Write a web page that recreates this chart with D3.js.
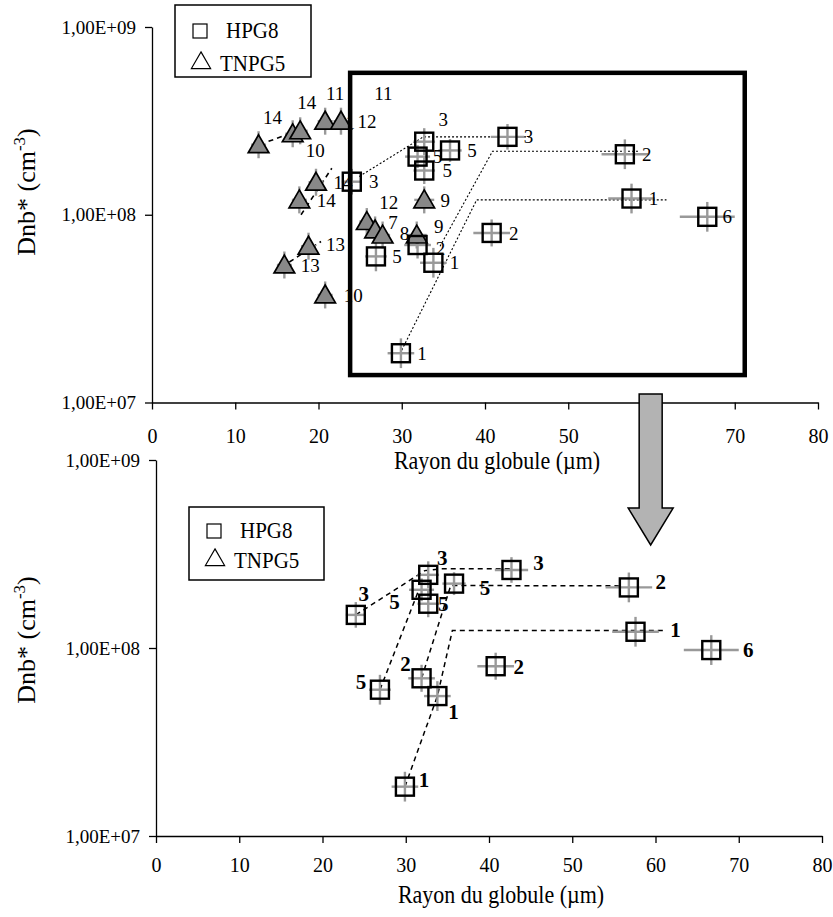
<!DOCTYPE html>
<html><head><meta charset="utf-8">
<script src="https://cdn.jsdelivr.net/npm/d3@7"></script>
<style>
body{margin:0;background:#fff}
svg text{font-family:"Liberation Serif","Times New Roman",serif;fill:#000}
</style>
</head><body>
<svg id="c" width="833" height="917"></svg>
<script>
// ---------------- DATA ----------------
// HPG8 (squares) – sample number, globule radius (µm), Dnb* (cm-3)
const hpgLabels = ["3","3","3","5","5","5","2","1","6","2","2","1","5","1"];
const hpgX      = [24, 32.7, 42.7, 35.8, 31.9, 32.7, 56.8, 57.6, 66.7, 40.8, 31.9, 33.8, 26.9, 29.9];
const hpgY      = [1.5e8, 2.45e8, 2.6e8, 2.2e8, 2.04e8, 1.72e8, 2.1e8, 1.22e8, 9.75e7, 8.0e7, 6.9e7, 5.55e7, 6.0e7, 1.83e7];
const hpgXErr   = [1.2, 1.3, 2.0, 1.4, 1.5, 1.3, 2.8, 2.8, 3.3, 2.2, 1.6, 1.6, 1.3, 1.6];
const hpgYErr   = [1.17, 1.18, 1.17, 1.15, 1.15, 1.18, 1.2, 1.2, 1.2, 1.18, 1.18, 1.2, 1.2, 1.2];

// TNPG5 (triangles)
const tnpLabels = ["14","14","10","11","12","14","14","9","12","7","8","9","13","13","10"];
const tnpX      = [12.8, 16.9, 17.8, 20.8, 22.7, 19.7, 17.7, 32.7, 25.8, 26.8, 27.7, 31.8, 18.8, 15.9, 20.8];
const tnpY      = [2.36e8, 2.7e8, 2.8e8, 3.15e8, 3.15e8, 1.49e8, 1.2e8, 1.2e8, 9.2e7, 8.3e7, 7.8e7, 7.8e7, 6.8e7, 5.4e7, 3.74e7];
const tnpXErr   = [0.9, 0.9, 0.9, 0.9, 0.9, 0.9, 0.9, 1.2, 0.9, 0.9, 0.9, 1.2, 0.9, 0.9, 0.9];
const tnpYErr   = [1.18, 1.18, 1.18, 1.18, 1.18, 1.18, 1.18, 1.18, 1.18, 1.18, 1.18, 1.18, 1.18, 1.18, 1.18];

// extra labels in the upper chart with no visible marker
const floatLabels = ["11", "11"];
const floatX      = [27.8, 23.3];
const floatY      = [4.45e8, 3.1e8];

// trend lines (upper chart, dotted)
const topCurve1 = [[30, 1.9e7], [39, 1.2e8], [61.8, 1.2e8]];
const topCurve2 = [[34.6, 6.8e7], [40.9, 2.18e8], [58.6, 2.18e8]];
const topCurve3 = [[24.9, 1.6e8], [32.6, 2.6e8], [45.4, 2.6e8]];
// TNPG5 dashed connectors
const triLine1 = [[14.0, 2.46e8], [16.2, 2.67e8]];
const triLine2 = [[17.9, 1.0e8], [21.6, 1.77e8]];
const triLine3 = [[16.5, 5.6e7], [20.3, 7.2e7]];
// trend lines (lower chart, dashed)
const botCurve1 = [[29.9, 1.83e7], [33.8, 5.55e7], [35.6, 1.24e8], [60.9, 1.24e8]];
const botCurve2 = [[31.9, 6.9e7], [35.4, 2.15e8], [55.6, 2.14e8]];
const botCurve3 = [[24, 1.5e8], [32.3, 2.58e8], [34.3, 2.64e8], [42.7, 2.64e8]];
const botCurve5 = [[26.9, 6.0e7], [31.5, 2.0e8]];

// zoom frame in the upper chart (data units)
const frameX = [23.8, 71.2];
const frameY = [1.4e7, 5.7e8];
const arrowXVal = 59.9;

const xTicks = [0, 10, 20, 30, 40, 50, 60, 70, 80];
const yTicks = [1e7, 1e8, 1e9];
const yTickLabels = ["1,00E+07", "1,00E+08", "1,00E+09"];
const xTitle = "Rayon du globule (µm)";
const legendNames = ["HPG8", "TNPG5"];

// ---------------- LAYOUT (label offsets, px) ----------------
const topHpgOff = [[22,0],[19,-22],[21,0],[22,0],[20,0],[23,0],[22,0],[22,0],[20,0],[22,0],[23,3],[21,0],[21,0],[21,0]];
const botHpgOff = [[8,-21],[14,-17],[27,-7],[31,4],[-27,12],[15,0],[32,-6],[40,-2],[37,0],[23,0],[-16,-15],[16,16],[-19,-8],[19,-7]];
const tnpOff    = [[14,-27],[14,-31],[15,20],[10,-28],[26,0],[27,0],[27,0],[21,0],[22,-19],[18,-8],[22,-2],[22,-9],[27,-2],[26,0],[28,0]];

const svg = d3.select("#c");

function drawPanel(cfg) {
  const xs = d3.scaleLinear().domain([0, 80]).range([cfg.x0, cfg.x1]);
  const ys = d3.scaleLog().domain([1e7, 1e9]).range([cfg.yb, cfg.yt]);
  const g = svg.append("g");

  // axes
  const xa = g.append("g").attr("transform", `translate(0,${cfg.yb})`)
    .call(d3.axisBottom(xs).tickValues(xTicks).tickSize(7).tickSizeOuter(0).tickFormat(d3.format("d")));
  xa.select(".domain").attr("stroke", "#000").attr("stroke-width", 1.3);
  xa.selectAll(".tick line").attr("stroke", "#000").attr("stroke-width", 1.3);
  xa.selectAll(".tick text").attr("font-size", 20).attr("dy", null).attr("y", cfg.xLabDy)
    .style("font-family", '"Liberation Serif",serif');
  const ya = g.append("g").attr("transform", `translate(${cfg.x0},0)`)
    .call(d3.axisLeft(ys).tickValues(yTicks).tickSize(7).tickSizeOuter(0).tickFormat((d, i) => yTickLabels[i]));
  ya.select(".domain").attr("stroke", "#000").attr("stroke-width", 1.3);
  ya.selectAll(".tick line").attr("stroke", "#000").attr("stroke-width", 1.3);
  ya.selectAll(".tick text").attr("font-size", 19).attr("x", -16)
    .style("font-family", '"Liberation Serif",serif');

  g.append("text").attr("transform", `translate(${cfg.xTitleX},${cfg.xTitleY}) scale(1,1.12)`)
    .attr("text-anchor", "middle").attr("font-size", 22).text(xTitle);
  const yt = g.append("text").attr("transform", `translate(${cfg.yTitleX},${cfg.yTitleY}) rotate(-90)`)
    .attr("text-anchor", "middle").attr("font-size", 26);
  yt.append("tspan").text("Dnb* (cm");
  yt.append("tspan").attr("dy", -10).attr("font-size", 17).text("-3");
  yt.append("tspan").attr("dy", 10).text(")");

  const line = d3.line().x(d => xs(d[0])).y(d => ys(d[1]));
  cfg.curves.forEach(c => g.append("path").attr("d", line(c)).attr("fill", "none")
    .attr("stroke", "#000").attr("stroke-width", cfg.curveW).attr("stroke-dasharray", cfg.curveDash));
  (cfg.triCurves || []).forEach(c => g.append("path").attr("d", line(c)).attr("fill", "none")
    .attr("stroke", "#000").attr("stroke-width", 1.6).attr("stroke-dasharray", "5,4"));

  // labels without marker (drawn under the markers)
  if (cfg.showTri) {
    floatX.forEach((x, i) => {
      g.append("text").attr("x", xs(x)).attr("y", ys(floatY[i])).attr("dy", "0.35em")
        .attr("text-anchor", "middle").attr("font-size", 19).text(floatLabels[i]);
    });
  }

  // error bars
  function errBars(X, Y, XE, YE) {
    X.forEach((x, i) => {
      g.append("line").attr("x1", xs(x - XE[i])).attr("x2", xs(x + XE[i]))
        .attr("y1", ys(Y[i])).attr("y2", ys(Y[i])).attr("stroke", "#999").attr("stroke-width", 2.4);
      g.append("line").attr("x1", xs(x)).attr("x2", xs(x))
        .attr("y1", ys(Y[i] / YE[i])).attr("y2", ys(Y[i] * YE[i])).attr("stroke", "#999").attr("stroke-width", 2.4);
    });
  }
  errBars(hpgX, hpgY, hpgXErr, hpgYErr);
  if (cfg.showTri) errBars(tnpX, tnpY, tnpXErr, tnpYErr);

  // triangles
  if (cfg.showTri) {
    const tri = d3.symbol().type(d3.symbolTriangle).size(185);
    tnpX.forEach((x, i) => {
      g.append("path").attr("d", tri()).attr("transform", `translate(${xs(x)},${ys(tnpY[i]) + 2})`)
        .attr("fill", "#888").attr("stroke", "#000").attr("stroke-width", 1.7);
    });
  }
  // squares
  hpgX.forEach((x, i) => {
    g.append("rect").attr("x", xs(x) - 9).attr("y", ys(hpgY[i]) - 9).attr("width", 18).attr("height", 18)
      .attr("fill", "none").attr("stroke", "#000").attr("stroke-width", 2.4);
  });

  // labels
  hpgX.forEach((x, i) => {
    const o = cfg.hpgOff[i];
    g.append("text").attr("x", xs(x) + o[0]).attr("y", ys(hpgY[i]) + o[1]).attr("dy", "0.35em")
      .attr("text-anchor", "middle").attr("font-size", cfg.labSize).attr("font-weight", cfg.labWeight)
      .text(hpgLabels[i]);
  });
  if (cfg.showTri) {
    tnpX.forEach((x, i) => {
      const o = tnpOff[i];
      g.append("text").attr("x", xs(x) + o[0]).attr("y", ys(tnpY[i]) + o[1]).attr("dy", "0.35em")
        .attr("text-anchor", "middle").attr("font-size", 19).text(tnpLabels[i]);
    });
  }

  // legend
  const L = cfg.legend;
  g.append("rect").attr("x", L.x).attr("y", L.y).attr("width", L.w).attr("height", L.h)
    .attr("fill", "#fff").attr("stroke", "#000").attr("stroke-width", 1.5);
  g.append("rect").attr("x", L.x + 18).attr("y", L.y + L.r1 - 14).attr("width", 14).attr("height", 14)
    .attr("fill", "none").attr("stroke", "#000").attr("stroke-width", 1.2);
  g.append("path").attr("d", d3.symbol().type(d3.symbolTriangle).size(160)())
    .attr("transform", `translate(${L.x + 26},${L.y + L.r2 - 8})`)
    .attr("fill", "none").attr("stroke", "#000").attr("stroke-width", 1.2);
  g.append("text").attr("transform", `translate(${L.x + 51},${L.y + L.r1}) scale(1,1.12)`)
    .attr("font-size", 21).text(legendNames[0]);
  g.append("text").attr("transform", `translate(${L.x + 45},${L.y + L.r2}) scale(1,1.12)`)
    .attr("font-size", 21).text(legendNames[1]);

  return { xs, ys, g };
}

const topP = drawPanel({
  x0: 152, x1: 818, yt: 27, yb: 402.5, xLabDy: 40,
  xTitleX: 497, xTitleY: 469, yTitleX: 35, yTitleY: 192,
  curves: [topCurve1, topCurve2, topCurve3], curveW: 1.1, curveDash: "2,2",
  triCurves: [triLine1, triLine2, triLine3], showTri: true,
  hpgOff: topHpgOff, labSize: 19, labWeight: "normal",
  legend: { x: 175, y: 5, w: 136, h: 72, r1: 33, r2: 66 }
});
// zoom frame
topP.g.append("rect").attr("x", topP.xs(frameX[0])).attr("y", topP.ys(frameY[1]))
  .attr("width", topP.xs(frameX[1]) - topP.xs(frameX[0])).attr("height", topP.ys(frameY[0]) - topP.ys(frameY[1]))
  .attr("fill", "none").attr("stroke", "#000").attr("stroke-width", 4.5);

const botP = drawPanel({
  x0: 156, x1: 822, yt: 460, yb: 836, xLabDy: 36,
  xTitleX: 501, xTitleY: 903, yTitleX: 35, yTitleY: 640,
  curves: [botCurve1, botCurve2, botCurve3, botCurve5], curveW: 1.5, curveDash: "5,4",
  showTri: false,
  hpgOff: botHpgOff, labSize: 21, labWeight: "bold",
  legend: { x: 189, y: 507, w: 135, h: 73, r1: 31, r2: 61 }
});

// arrow between the charts
const ax = topP.xs(arrowXVal);
const ay0 = 394, ay1 = 508, ay2 = 545;
svg.append("path")
  .attr("d", `M${ax - 11.5},${ay0} H${ax + 11.5} V${ay1} H${ax + 22.5} L${ax},${ay2} L${ax - 22.5},${ay1} H${ax - 11.5} Z`)
  .attr("fill", "#b3b3b3").attr("stroke", "#000").attr("stroke-width", 1.5);
</script>
</body></html>
